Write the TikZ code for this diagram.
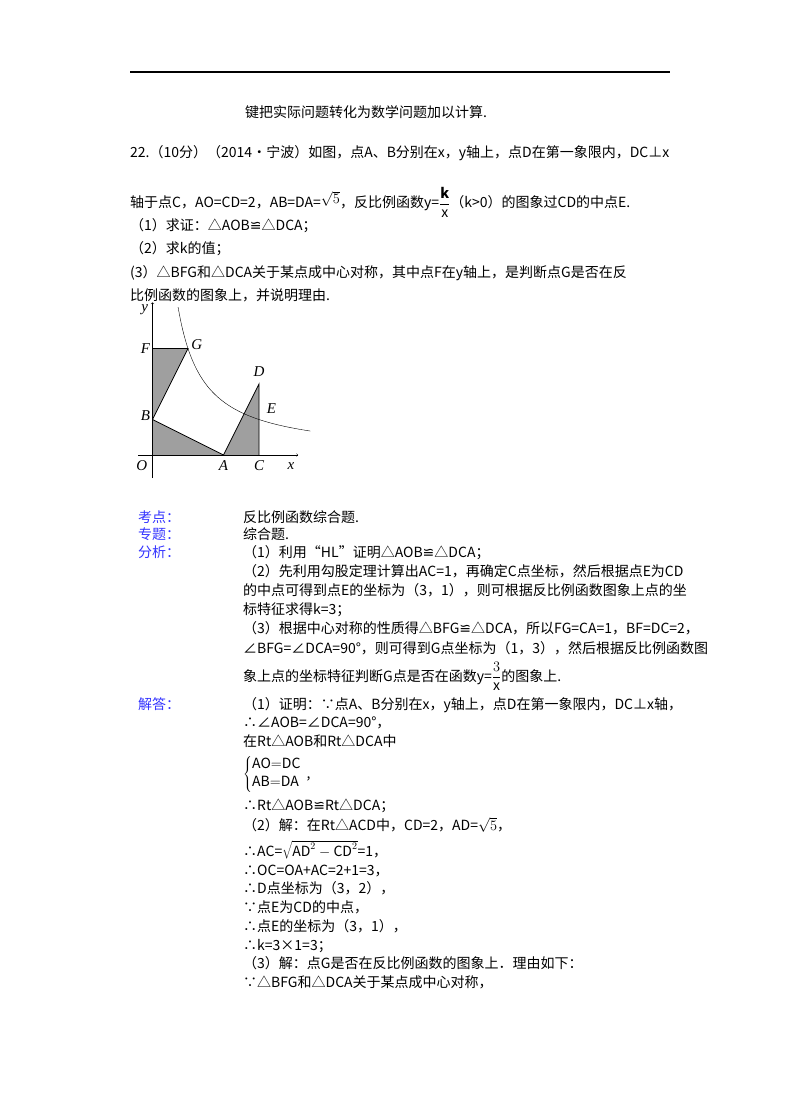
\documentclass[tikz,border=0pt]{standalone}
\usepackage{fontspec}
\setmainfont{Noto Sans CJK SC}
\newfontfamily\djfont{DejaVu Sans}
\newfontfamily\serf{Liberation Serif}
\newcommand{\cgr}{{\djfont ≌}}
\begin{document}
\begin{tikzpicture}[x=1pt,y=-1pt,
 t/.style={anchor=base west,inner sep=0pt,font=\fontsize{14}{16}\selectfont},
 lb/.style={t,text=blue!80!white},
 lab/.style={font=\serf\itshape\fontsize{15}{16}\selectfont,inner sep=1pt}]
\useasboundingbox (0,0) rectangle (800,1107);
\draw[line width=1.2pt] (130,72) -- (670,72);
\node[t] (l0) at (245,118) {键把实际问题转化为数学问题加以计算.};
\node[t] (p1) at (130,158) {22.（10分）（2014•宁波）如图，点A、B分别在x，y轴上，点D在第一象限内，DC⊥x};
\node[t] (p2) at (130,208) {轴于点C，AO=CD=2，AB=DA=$\raisebox{4pt}{$\sqrt{5}$}$，反比例函数y=$\displaystyle\frac{\mathbf{k}}{\mathrm{x}}$（k>0）的图象过CD的中点E.};
\node[t] (p3) at (130,231) {（1）求证：△AOB\cgr△DCA；};
\node[t] (p4) at (130,254) {（2）求k的值；};
\node[t] (p5) at (130,277) {(3）△BFG和△DCA关于某点成中心对称，其中点F在y轴上，是判断点G是否在反};
\node[t] (p6) at (130,300) {比例函数的图象上，并说明理由.};
% figure
\begin{scope}[shift={(152.5,455)},x=35.5pt,y=35.5pt]
\fill[gray!75] (0,0) -- (2,0) -- (0,1) -- cycle;
\fill[gray!75] (2,0) -- (3,0) -- (3,2) -- cycle;
\fill[gray!75] (0,1) -- (0,3) -- (1,3) -- cycle;
\draw[thick] (0,1) -- (2,0) (2,0) -- (3,2) -- (3,0) (0,1) -- (1,3) -- (0,3);
\draw[->,thin] (-0.4,0) -- (4.1,0);
\draw[->,thin] (0,-0.65) -- (0,4.3);
\draw[thin] plot[domain=0.72:4.45,samples=80,smooth] (\x,{3/\x});
\node[lab] (nO) at (-0.3,-0.3) {O};
\node[lab] (nA) at (2,-0.3) {A};
\node[lab] (nC) at (3,-0.3) {C};
\node[lab] (nx) at (3.9,-0.3) {x};
\node[lab] (ny) at (-0.22,4.1) {y};
\node[lab] (nF) at (-0.2,3) {F};
\node[lab] (nG) at (1.25,3.1) {G};
\node[lab] (nB) at (-0.2,1.1) {B};
\node[lab] (nD) at (3,2.35) {D};
\node[lab] (nE) at (3.35,1.3) {E};
\end{scope}
% analysis
\node[lb] (k1) at (138,522) {考点：};
\node[t] (k1t) at (243,522) {反比例函数综合题.};
\node[lb] (k2) at (138,539) {专题：};
\node[t] (k2t) at (243,539) {综合题.};
\node[lb] (k3) at (138,557) {分析：};
\node[t] (a1) at (243,557) {（1）利用“HL”证明△AOB\cgr△DCA；};
\node[t] (a2) at (243,576) {（2）先利用勾股定理计算出AC=1，再确定C点坐标，然后根据点E为CD};
\node[t] (a3) at (243,595) {的中点可得到点E的坐标为（3，1），则可根据反比例函数图象上点的坐};
\node[t] (a4) at (243,614) {标特征求得k=3；};
\node[t] (a5) at (243,633) {（3）根据中心对称的性质得△BFG\cgr△DCA，所以FG=CA=1，BF=DC=2，};
\node[t] (a6) at (243,653) {∠BFG=∠DCA=90°，则可得到G点坐标为（1，3），然后根据反比例函数图};
\node[t] (a7) at (243,681) {象上点的坐标特征判断G点是否在函数y=$\displaystyle\frac{3}{\mathrm{x}}$的图象上.};
\node[lb] (k4) at (138,709) {解答：};
\node[t] (s1) at (243,709) {（1）证明：∵点A、B分别在x，y轴上，点D在第一象限内，DC⊥x轴，};
\node[t] (s2) at (243,727) {∴∠AOB=∠DCA=90°，};
\node[t] (s3) at (243,746) {在Rt△AOB和Rt△DCA中};
\node[t] (s4) at (243,778) {$\left\{\begin{array}{@{}l}\mathrm{AO{=}DC}\\[2pt]\mathrm{AB{=}DA}\end{array}\right.$,};
\node[t] (s5) at (243,810) {∴Rt△AOB\cgr Rt△DCA；};
\node[t] (s6) at (243,830) {（2）解：在Rt△ACD中，CD=2，AD=$\sqrt{5}$，};
\node[t] (s7) at (243,856) {∴AC=$\sqrt{\mathrm{AD}^2-\mathrm{CD}^2}$=1，};
\node[t] (s8) at (243,875) {∴OC=OA+AC=2+1=3，};
\node[t] (s9) at (243,893) {∴D点坐标为（3，2），};
\node[t] (s10) at (243,912) {∵点E为CD的中点，};
\node[t] (s11) at (243,931) {∴点E的坐标为（3，1），};
\node[t] (s12) at (243,950) {∴k=3×1=3；};
\node[t] (s13) at (243,968) {（3）解：点G是否在反比例函数的图象上．理由如下：};
\node[t] (s14) at (243,987) {∵△BFG和△DCA关于某点成中心对称，};
\end{tikzpicture}
\end{document}
